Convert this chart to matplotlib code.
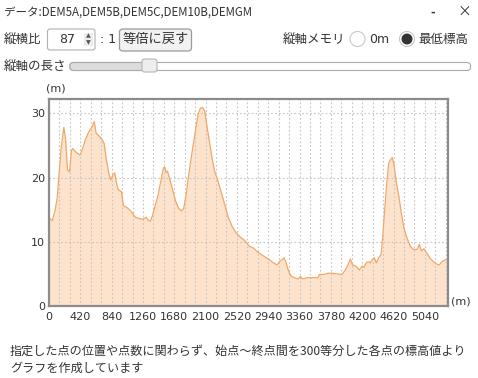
#elevation profile window (DEM data) redrawn with matplotlib
import matplotlib.pyplot as plt
import matplotlib.patches as mpatches
import numpy as np

plt.rcParams['font.family'] = ['Noto Sans CJK JP', 'DejaVu Sans']

#distance along the line (m) and elevation (m)
distance = [0, 43, 78, 110, 131, 163, 199, 221, 248, 275, 301, 319, 364, 418, 453, 489,
            533, 579, 606, 632, 668, 713, 740, 766, 801, 828, 855, 882, 900, 927, 972,
            998, 1048, 1105, 1159, 1213, 1257, 1302, 1337, 1360, 1383, 1427, 1463, 1498,
            1534, 1552, 1570, 1588, 1615, 1651, 1695, 1739, 1776, 1806, 1838, 1873, 1919,
            1963, 1999, 2030, 2061, 2088, 2115, 2151, 2187, 2222, 2267, 2312, 2356, 2401,
            2455, 2508, 2566, 2624, 2687, 2744, 2790, 2848, 2901, 2955, 3012, 3062, 3089,
            3125, 3152, 3179, 3213, 3250, 3294, 3339, 3370, 3401, 3460, 3527, 3580, 3607,
            3625, 3682, 3741, 3795, 3862, 3929, 3973, 4009, 4040, 4071, 4117, 4161, 4197,
            4224, 4251, 4285, 4308, 4331, 4362, 4389, 4419, 4452, 4473, 4500, 4527, 4554,
            4580, 4603, 4626, 4652, 4688, 4724, 4760, 4800, 4844, 4888, 4934, 4965, 4992,
            5028, 5068, 5112, 5156, 5202, 5233, 5269, 5313, 5349]
elevation = [13.7, 13.3, 14.7, 16.8, 19.9, 24.6, 27.8, 26.1, 21.2, 20.9, 24.2, 24.5, 23.9,
             23.5, 24.6, 25.9, 27.1, 27.9, 28.7, 26.9, 26.5, 25.9, 25.3, 23.0, 20.7, 19.6,
             20.4, 20.7, 19.4, 18.1, 17.8, 15.6, 15.3, 14.7, 13.8, 13.6, 13.5, 13.8, 13.3,
             13.2, 13.9, 15.8, 17.3, 19.4, 21.5, 21.6, 20.8, 21.0, 19.9, 18.4, 16.4, 15.2,
             14.8, 15.2, 17.3, 20.4, 24.0, 27.2, 29.8, 30.8, 30.9, 30.3, 28.2, 25.6, 23.0,
             20.9, 19.4, 17.6, 15.8, 13.9, 12.4, 11.4, 10.7, 10.2, 9.3, 9.0, 8.5, 8.0, 7.6,
             7.2, 6.7, 6.4, 6.9, 7.2, 7.5, 6.7, 5.4, 4.6, 4.4, 4.2, 4.6, 4.2, 4.4, 4.4, 4.4,
             4.4, 4.9, 4.9, 5.1, 5.1, 5.0, 4.9, 5.6, 6.4, 7.3, 6.4, 6.2, 5.6, 6.2, 6.0, 6.7,
             6.9, 6.7, 7.2, 7.5, 6.7, 7.5, 8.0, 10.6, 14.7, 18.9, 22.2, 22.8, 23.1, 22.0,
             19.6, 17.3, 14.5, 12.1, 10.6, 9.3, 8.8, 8.8, 9.6, 8.6, 8.9, 8.2, 7.4, 6.9, 6.5,
             6.4, 6.9, 7.2, 7.2]

x_ticks = [0, 420, 840, 1260, 1680, 2100, 2520, 2940, 3360, 3780, 4200, 4620, 5040]
y_ticks = [0, 10, 20, 30]

W, H = 478, 378
fig = plt.figure(figsize=(W / 100, H / 100), dpi=100)
fig.patch.set_facecolor('white')

#helper to go from pixel coords (top-left origin) to figure fraction
def fx(x):
    return x / W

def fy(y):
    return 1 - y / H

ui_col = '#333333'

#title bar
fig.text(fx(4), fy(12), 'データ:DEM5A,DEM5B,DEM5C,DEM10B,DEMGM', fontsize=8.3,
         color=ui_col, va='center', ha='left')
fig.text(fx(433), fy(12), '-', fontsize=9, color=ui_col, va='center', ha='center',
         fontweight='bold')
fig.text(fx(464), fy(12), '×', fontsize=10, color=ui_col, va='center', ha='center')

#row with the ratio spinbox and button
fig.text(fx(4), fy(39), '縦横比', fontsize=9, color=ui_col, va='center', ha='left')
fig.patches.append(mpatches.FancyBboxPatch((fx(47.5), fy(50)), fx(47.5), 21 / H,
                                           boxstyle='round,pad=0,rounding_size=0.006',
                                           transform=fig.transFigure, facecolor='white',
                                           edgecolor='#b0b0b0', linewidth=0.8))
fig.patches.append(mpatches.Rectangle((fx(83.5), fy(46)), fx(9.5), 13 / H,
                                      transform=fig.transFigure, facecolor='#ececec',
                                      edgecolor='none'))
fig.text(fx(67), fy(39.5), '87', fontsize=9, color=ui_col, va='center', ha='center',
         family='DejaVu Sans')
fig.text(fx(88.3), fy(36), '▲', fontsize=4.5, color='#555555', va='center', ha='center',
         family='DejaVu Sans')
fig.text(fx(88.3), fy(43), '▼', fontsize=4.5, color='#555555', va='center', ha='center',
         family='DejaVu Sans')
fig.text(fx(100), fy(39.5), ': 1', fontsize=9, color=ui_col, va='center', ha='left',
         family='DejaVu Sans')
fig.patches.append(mpatches.FancyBboxPatch((fx(119.5), fy(51)), fx(72), 22 / H,
                                           boxstyle='round,pad=0,rounding_size=0.008',
                                           transform=fig.transFigure, facecolor='#f2f2f2',
                                           edgecolor='#9a9a9a', linewidth=0.9))
fig.text(fx(155.5), fy(39.5), '等倍に戻す', fontsize=9.5, color=ui_col, va='center',
         ha='center')

#radio buttons on the right
fig.text(fx(283), fy(39.5), '縦軸メモリ', fontsize=9, color=ui_col, va='center', ha='left')
fig.patches.append(mpatches.Ellipse((fx(357.5), fy(39)), 15 / W, 15 / H,
                                    transform=fig.transFigure, facecolor='white',
                                    edgecolor='#c8c8c8', linewidth=0.8))
fig.text(fx(369), fy(39.5), '0m', fontsize=9, color=ui_col, va='center', ha='left',
         family='DejaVu Sans')
fig.patches.append(mpatches.Ellipse((fx(407), fy(39)), 15 / W, 15 / H,
                                    transform=fig.transFigure, facecolor='white',
                                    edgecolor='#c8c8c8', linewidth=0.8))
fig.patches.append(mpatches.Ellipse((fx(407), fy(39)), 11 / W, 11 / H,
                                    transform=fig.transFigure, facecolor='#333333',
                                    edgecolor='none'))
fig.text(fx(418), fy(39.5), '最低標高', fontsize=9, color=ui_col, va='center', ha='left')

#slider row
fig.text(fx(4), fy(66), '縦軸の長さ', fontsize=9, color=ui_col, va='center', ha='left')
fig.patches.append(mpatches.FancyBboxPatch((fx(70), fy(70.5)), fx(400.5), 8 / H,
                                           boxstyle='round,pad=0,rounding_size=0.008',
                                           transform=fig.transFigure, facecolor='white',
                                           edgecolor='#aaaaaa', linewidth=0.8))
fig.patches.append(mpatches.FancyBboxPatch((fx(70), fy(70.5)), fx(75), 8 / H,
                                           boxstyle='round,pad=0,rounding_size=0.008',
                                           transform=fig.transFigure, facecolor='#dcdcdc',
                                           edgecolor='#aaaaaa', linewidth=0.8))
fig.patches.append(mpatches.FancyBboxPatch((fx(142), fy(72)), fx(15), 13 / H,
                                           boxstyle='round,pad=0,rounding_size=0.006',
                                           transform=fig.transFigure, facecolor='#eeeeee',
                                           edgecolor='#b5b5b5', linewidth=0.8))

#the profile chart itself
ax = fig.add_axes([fx(49), fy(306), fx(399), 207.5 / H])
ax.fill_between(distance, elevation, 0, color='#fde3cc', linewidth=0, zorder=1)
ax.plot(distance, elevation, color='#f0a868', linewidth=0.9, zorder=3)
ax.set_xlim(0, 5350)
ax.set_ylim(0, 32.3)

ax.set_xticks(x_ticks)
ax.set_yticks(y_ticks)
ax.set_xticks(np.arange(0, 5350, 140), minor=True)
ax.tick_params(which='both', length=0)
ax.tick_params(axis='x', pad=4, labelsize=8, labelcolor=ui_col)
ax.tick_params(axis='y', pad=3, labelsize=8, labelcolor=ui_col)
for lab in ax.get_xticklabels() + ax.get_yticklabels():
    lab.set_family('DejaVu Sans')

ax.grid(which='minor', axis='x', linestyle=(0, (1.5, 2)), color='#c4c4c4', linewidth=0.8,
        zorder=2)
ax.grid(which='major', axis='both', linestyle=(0, (1.5, 2)), color='#c4c4c4',
        linewidth=0.8, zorder=2)
ax.set_axisbelow(False)
for s in ax.spines.values():
    s.set_color('#8c8c8c')
    s.set_linewidth(1.6)
    s.set_zorder(4)

fig.text(fx(46), fy(88.5), '(m)', fontsize=8, color=ui_col, va='center', ha='left',
         family='DejaVu Sans')
fig.text(fx(451.5), fy(302), '(m)', fontsize=8, color=ui_col, va='center', ha='left',
         family='DejaVu Sans')

#note below the chart
fig.text(fx(10), fy(351), '指定した点の位置や点数に関わらず、始点～終点間を300等分した各点の標高値より',
         fontsize=8.7, color=ui_col, va='center', ha='left')
fig.text(fx(10), fy(368), 'グラフを作成しています', fontsize=8.7, color=ui_col,
         va='center', ha='left')

fig.savefig('out.png', dpi=100)
